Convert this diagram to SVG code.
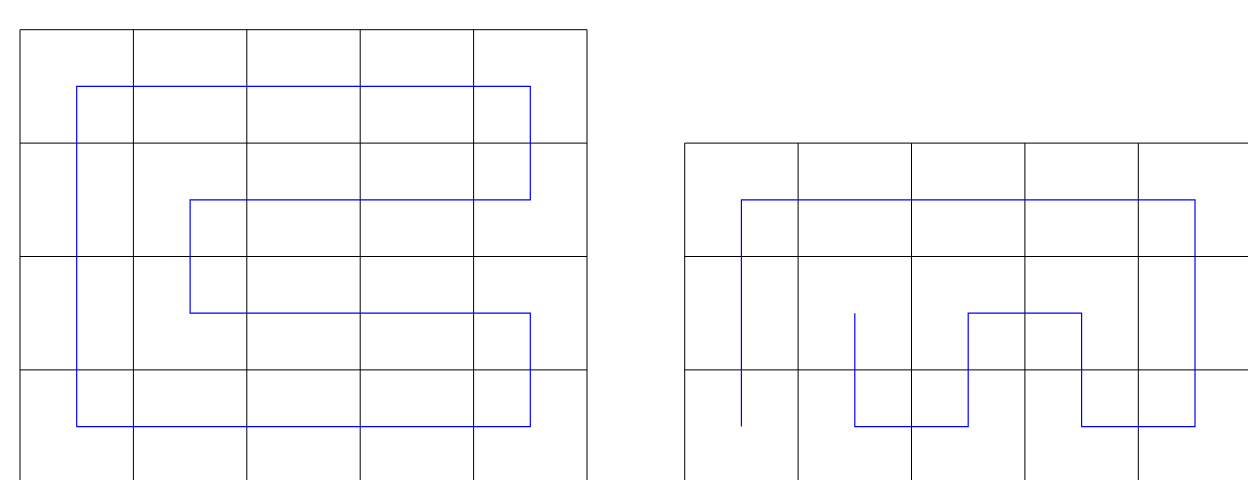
<svg xmlns="http://www.w3.org/2000/svg" width="1248" height="480" viewBox="0 0 1248 480">
<style>
.grid{fill:none;stroke:#000;stroke-width:1}
.path{fill:none;stroke:#0000ff;stroke-width:1.2}
</style>
<rect width="1248" height="480" fill="#fff"/>
<g id="left-grid" class="grid">
<path d="M20,29.7H587M20,143.1H587M20,256.5H587M20,369.9H587M20,483.3H587M20,29.7V490M133.4,29.7V490M246.8,29.7V490M360.2,29.7V490M473.6,29.7V490M587,29.7V490"/>
</g>
<g id="right-grid" class="grid">
<path d="M684.7,143.1H1260M684.7,256.5H1260M684.7,369.9H1260M684.7,143.1V490M798.1,143.1V490M911.5,143.1V490M1024.9,143.1V490M1138.3,143.1V490"/>
</g>
<g id="connectors">
<path id="left-path" class="path" d="M76.7,86.4H530.3V199.8H190.1V313.2H530.3V426.6H76.7Z"/>
<path id="right-path" class="path" d="M741.4,426.6V199.8H1195V426.6H1081.6V313.2H968.2V426.6H854.8V313.2"/>
</g>
</svg>
